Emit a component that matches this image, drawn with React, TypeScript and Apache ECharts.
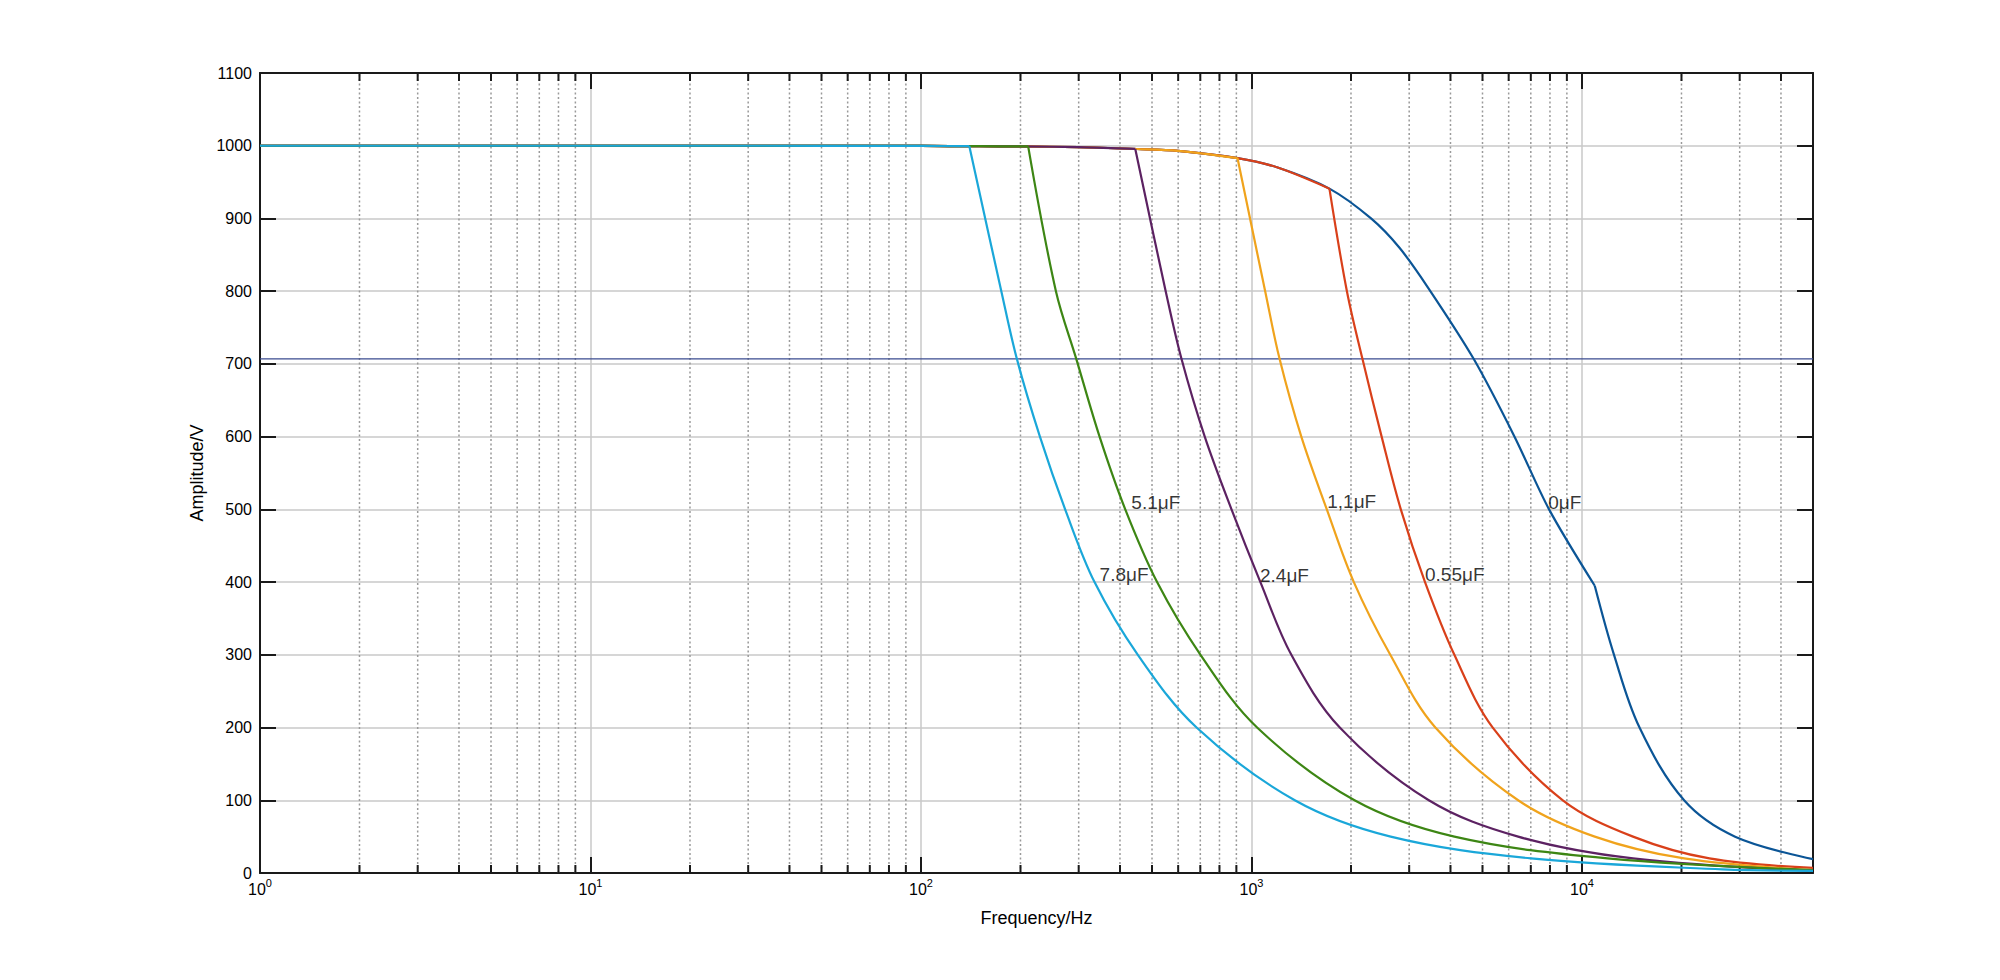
import React, { useEffect, useRef } from "react";
import * as echarts from "echarts";

// ---------- data ----------
const X_MIN = 1;
const X_MAX = 50000;
const Y_MIN = 0;
const Y_MAX = 1100;
const Y_STEP = 100;

const cutoffLevel = [707, 707];
const cutoffFreq = [1, 50000];

// common upper envelope (the 0μF response before its knee)
const envFreq = [1, 10, 50, 100, 150, 200, 300, 450, 600, 907, 1200, 1721, 2300, 2800, 3420, 4700, 6250, 7950, 10930];
const envAmp = [1000, 1000, 999.9, 999.7, 999.4, 999, 998, 995.5, 993, 983, 970, 941, 900, 860, 805, 707, 600, 500, 395];

// fall-off branch of each curve, starting at its break point
const drop0F = [10930, 12500, 14930, 20370, 29060, 50000];
const drop0A = [395, 300, 200, 100, 50, 19];

const drop055F = [1721, 1944, 2166, 2476, 2830, 3350, 4110, 5370, 8750, 14270, 24300, 50000];
const drop055A = [941, 800, 707, 600, 500, 400, 300, 200, 100, 50, 20, 7];

const drop11F = [907, 1100, 1216, 1415, 1690, 2040, 2630, 3600, 6410, 10930, 20370, 50000];
const drop11A = [983, 800, 707, 600, 500, 400, 300, 200, 100, 50, 20, 4];

const drop24F = [445, 550, 614, 722, 870, 1064, 1320, 1850, 3440, 6410, 14270, 50000];
const drop24A = [995.6, 800, 707, 600, 500, 400, 300, 200, 100, 50, 20, 3];

const drop51F = [211, 256, 295, 347, 415, 518, 701, 1040, 2050, 4110, 11950, 50000];
const drop51A = [999.1, 800, 707, 600, 500, 400, 300, 200, 100, 50, 20, 4];

const drop78F = [140, 175, 195, 229, 273, 335, 453, 682, 1352, 2637, 7010, 26600, 50000];
const drop78A = [999.5, 800, 707, 600, 500, 400, 300, 200, 100, 50, 20, 5, 3];

const labelTexts = ["0μF", "5.1μF", "1,1μF", "7.8μF", "2.4μF", "0.55μF"];
const labelFreq = [7900, 433, 1695, 347, 1061, 3350];
const labelAmp = [510, 510, 511, 410, 409, 410];

const minorMultipliers = [2, 3, 4, 5, 6, 7, 8, 9];
const decades = [1, 10, 100, 1000, 10000];

const xName = "Frequency/Hz";
const yName = "Amplitude/V";

// ---------- styles ----------
const FONT = "'Liberation Sans', Arial, Helvetica, sans-serif";
const AXIS_COLOR = "#1a1a1a";
const GRID_COLOR = "#c8c8c8";
const MINOR_COLOR = "#9a9a9a";

const curves = [
  { name: "0μF", f: drop0F, a: drop0A, color: "#0b5596" },
  { name: "0.55μF", f: drop055F, a: drop055A, color: "#d9401a" },
  { name: "1.1μF", f: drop11F, a: drop11A, color: "#f0a31c" },
  { name: "2.4μF", f: drop24F, a: drop24A, color: "#5c2262" },
  { name: "5.1μF", f: drop51F, a: drop51A, color: "#3d8614" },
  { name: "7.8μF", f: drop78F, a: drop78A, color: "#1aa7d9" },
];

const minorTicks: number[] = [];
decades.forEach((d) => {
  minorMultipliers.forEach((m) => {
    const v = m * d;
    if (v < X_MAX) minorTicks.push(v);
  });
});

function buildOption(): any {
  const expLabel = (v: number) => {
    const l = Math.log10(v);
    const e = Math.round(l);
    if (Math.abs(l - e) > 1e-6) return "";
    return `{b|10}{s|${e}}`;
  };

  const series: any[] = [];

  series.push({
    type: "custom",
    name: "minor",
    coordinateSystem: "cartesian2d",
    xAxisIndex: 0,
    yAxisIndex: 0,
    z: 1,
    silent: true,
    clip: false,
    data: minorTicks.map((f) => [f, Y_MIN]),
    encode: { x: 0, y: 1 },
    renderItem: (params: any, api: any) => {
      const f = api.value(0);
      const bot = api.coord([f, Y_MIN]);
      const top = api.coord([f, Y_MAX]);
      return {
        type: "group",
        children: [
          {
            type: "line",
            shape: { x1: bot[0], y1: bot[1], x2: top[0], y2: top[1] },
            style: { stroke: MINOR_COLOR, lineWidth: 1.5, lineDash: [2, 2.5] },
          },
          {
            type: "line",
            shape: { x1: bot[0], y1: bot[1], x2: bot[0], y2: bot[1] - 8 },
            style: { stroke: AXIS_COLOR, lineWidth: 2 },
          },
          {
            type: "line",
            shape: { x1: top[0], y1: top[1], x2: top[0], y2: top[1] + 8 },
            style: { stroke: AXIS_COLOR, lineWidth: 2 },
          },
        ],
      };
    },
  });

  series.push({
    type: "line",
    name: "cutoff",
    data: cutoffFreq.map((f, i) => [f, cutoffLevel[i]]),
    symbol: "none",
    lineStyle: { color: "#3a4b8f", width: 1.3 },
    z: 2,
    silent: true,
  });

  curves.forEach((c, idx) => {
    const breakF = c.f[0];
    const env: number[][] = [];
    envFreq.forEach((f, i) => {
      if (f < breakF) env.push([f, envAmp[i]]);
    });
    env.push([breakF, c.a[0]]);
    series.push({
      type: "line",
      name: c.name + " flat",
      data: env,
      symbol: "none",
      smooth: 0.3,
      lineStyle: { color: c.color, width: 2.2 },
      z: 3 + idx,
      silent: true,
    });
    series.push({
      type: "line",
      name: c.name,
      data: c.f.map((f, i) => [f, c.a[i]]),
      symbol: "none",
      smooth: 0.35,
      lineStyle: { color: c.color, width: 2.2 },
      z: 3 + idx,
      silent: true,
    });
  });

  series.push({
    type: "scatter",
    name: "labels",
    symbolSize: 0,
    z: 20,
    silent: true,
    data: labelTexts.map((t, i) => ({ name: t, value: [labelFreq[i], labelAmp[i]] })),
    label: {
      show: true,
      position: "right",
      distance: 0,
      formatter: (p: any) => p.name,
      fontFamily: FONT,
      fontSize: 19,
      color: "#000",
    },
  });

  return {
    animation: false,
    backgroundColor: "#ffffff",
    grid: { left: 260, top: 73, width: 1553, height: 800, containLabel: false },
    xAxis: [
      {
        type: "log",
        logBase: 10,
        min: X_MIN,
        max: X_MAX,
        position: "bottom",
        name: xName,
        nameLocation: "middle",
        nameGap: 36,
        nameTextStyle: { fontFamily: FONT, fontSize: 18, color: "#000" },
        axisLine: { show: true, onZero: false, lineStyle: { color: AXIS_COLOR, width: 2 } },
        axisTick: { show: true, inside: true, length: 16, lineStyle: { color: AXIS_COLOR, width: 2 } },
        axisLabel: {
          show: true,
          margin: 4,
          showMaxLabel: false,
          formatter: expLabel,
          rich: {
            b: { fontFamily: FONT, fontSize: 16, lineHeight: 18, padding: [7, 0, 0, 0], color: "#000" },
            s: { fontFamily: FONT, fontSize: 11, lineHeight: 12, verticalAlign: "top", color: "#000" },
          },
        },
        splitLine: { show: true, lineStyle: { color: GRID_COLOR, width: 1.5 } },
        minorTick: { show: false },
        minorSplitLine: { show: false },
      },
      {
        type: "log",
        logBase: 10,
        min: X_MIN,
        max: X_MAX,
        position: "top",
        axisLine: { show: true, onZero: false, lineStyle: { color: AXIS_COLOR, width: 2 } },
        axisTick: { show: true, inside: true, length: 16, lineStyle: { color: AXIS_COLOR, width: 2 } },
        axisLabel: { show: false },
        splitLine: { show: false },
      },
    ],
    yAxis: [
      {
        type: "value",
        min: Y_MIN,
        max: Y_MAX,
        interval: Y_STEP,
        position: "left",
        name: yName,
        nameLocation: "middle",
        nameGap: 52,
        nameTextStyle: { fontFamily: FONT, fontSize: 18, color: "#000" },
        axisLine: { show: true, onZero: false, lineStyle: { color: AXIS_COLOR, width: 2 } },
        axisTick: { show: true, inside: true, length: 16, lineStyle: { color: AXIS_COLOR, width: 2 } },
        axisLabel: {
          show: true,
          margin: 8,
          fontFamily: FONT,
          fontSize: 16,
          color: "#000",
          formatter: (v: number) => String(v),
        },
        splitLine: { show: true, lineStyle: { color: GRID_COLOR, width: 1.5 } },
      },
      {
        type: "value",
        min: Y_MIN,
        max: Y_MAX,
        interval: Y_STEP,
        position: "right",
        axisLine: { show: true, onZero: false, lineStyle: { color: AXIS_COLOR, width: 2 } },
        axisTick: { show: true, inside: true, length: 16, lineStyle: { color: AXIS_COLOR, width: 2 } },
        axisLabel: { show: false },
        splitLine: { show: false },
      },
    ],
    series,
  };
}

export default function App() {
  const ref = useRef<HTMLDivElement>(null);
  useEffect(() => {
    if (!ref.current) return;
    const chart = echarts.init(ref.current, null, { renderer: "svg" });
    chart.setOption(buildOption());
    return () => {
      chart.dispose();
    };
  }, []);
  return (
    <div
      ref={ref}
      style={{ position: "absolute", left: 0, top: 0, width: 2000, height: 980, background: "#ffffff" }}
    />
  );
}
